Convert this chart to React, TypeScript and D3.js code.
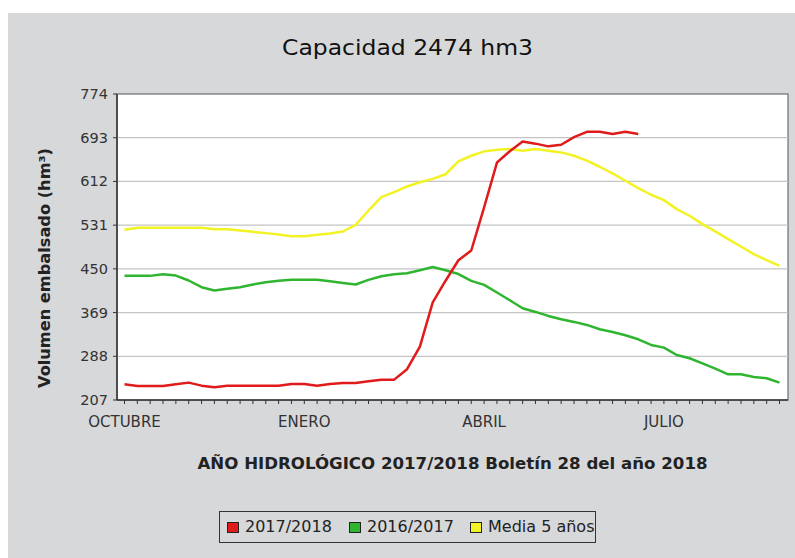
import React from "react";
import * as d3 from "d3";

const serie20172018 = [236.1, 233, 233, 233, 236.1, 239.2, 233.6, 230.5, 233.6, 233.6, 233.6, 233.6, 233.6, 236.7, 236.7, 233.6, 236.7, 238.5, 238.5, 241.6, 244.7, 244.7, 264, 306, 388, 428, 466, 484, 564, 647, 668, 686, 682, 677, 680, 694, 704, 704, 700, 704, 700];
const serie20162017 = [437, 437, 437, 440, 437.6, 428.4, 416, 410, 413, 416, 421, 425, 428, 429.6, 429.6, 429.6, 427, 424, 421, 429.6, 436.4, 440, 442, 447.5, 453.4, 447.5, 440.4, 427.7, 420.3, 406.1, 391.9, 377, 370.2, 362.8, 356.6, 351.7, 346.1, 338.1, 333.1, 326.9, 319.5, 309, 304, 290.4, 284.3, 275, 265.1, 254.6, 254.6, 249.6, 247.2, 239.1];
const media5 = [522.3, 526.1, 526.1, 526.1, 526.1, 526.1, 526.1, 523.6, 523.6, 521.1, 518.6, 516.2, 513.7, 510.6, 510.6, 513.1, 515.5, 519.2, 531.6, 558.2, 583, 592.2, 602.7, 610.5, 616.7, 625.3, 649, 659.6, 667.7, 670.8, 672, 668.9, 672, 668.9, 665.8, 659.6, 650.4, 639.2, 626.9, 613.3, 599.7, 587.3, 577.4, 560.7, 548.4, 532.9, 519.3, 505, 491.4, 477.2, 466.1, 455.6];

const yTicks = [207, 288, 369, 450, 531, 612, 693, 774];
const monthLabels = ["OCTUBRE", "ENERO", "ABRIL", "JULIO"];
const monthWeek = [0, 14, 28, 42];
const nWeeks = 52;

const seriesNames = ["2017/2018", "2016/2017", "Media 5 años"];
const seriesColors = ["#e01b1b", "#2fb52f", "#f2f224"];

const FONT = "'DejaVu Sans', sans-serif";

export default function App() {
  const W = 795, H = 558;
  const plot = { left: 117, top: 94, right: 788, bottom: 400 };
  const x = d3.scaleLinear().domain([0, nWeeks - 1]).range([124.5, 779.5]);
  const y = d3.scaleLinear().domain([207, 774]).range([plot.bottom, plot.top]);
  const line = d3.line<number>().x((_, i) => x(i)).y((d) => y(d));
  const allSeries = [serie20172018, serie20162017, media5];
  const drawOrder = [2, 1, 0];

  const legendItems = [
    { sq: 227, tx: 245 },
    { sq: 349, tx: 367 },
    { sq: 470, tx: 488 },
  ];

  return (
    <svg width={W} height={H} style={{ position: "absolute", left: 0, top: 0 }} fontFamily={FONT}>
      <rect x={0} y={0} width={W} height={H} fill="#ffffff" />
      <rect x={8} y={13} width={W - 8} height={H - 13} fill="#d7d8da" />
      <text x={407.5} y={55} textAnchor="middle" fontSize={21} fill="#111" textLength={251} lengthAdjust="spacingAndGlyphs">
        Capacidad 2474 hm3
      </text>
      <rect x={plot.left} y={plot.top} width={plot.right - plot.left} height={plot.bottom - plot.top} fill="#ffffff" stroke="#555" strokeWidth={1} />
      {yTicks.map((t) => (
        <g key={t}>
          {t !== 207 && t !== 774 && (
            <line x1={plot.left} x2={plot.right} y1={y(t)} y2={y(t)} stroke="#c4c4c4" strokeWidth={1.2} />
          )}
          <line x1={plot.left - 4} x2={plot.left} y1={y(t)} y2={y(t)} stroke="#333" strokeWidth={1} />
          <text x={108} y={y(t) + 5} textAnchor="end" fontSize={14.5} fill="#333">{t}</text>
        </g>
      ))}
      {d3.range(nWeeks).map((i) => (
        <line key={i} x1={x(i)} x2={x(i)} y1={plot.bottom} y2={plot.bottom + 4} stroke="#333" strokeWidth={1} />
      ))}
      <line x1={plot.left} x2={plot.left} y1={plot.top} y2={plot.bottom} stroke="#333" strokeWidth={1.5} />
      <line x1={plot.left} x2={plot.right} y1={plot.bottom} y2={plot.bottom} stroke="#333" strokeWidth={1.5} />
      {monthLabels.map((m, k) => (
        <text key={m} x={x(monthWeek[k])} y={427} textAnchor="middle" fontSize={15} fill="#333">{m}</text>
      ))}
      <text x={452.5} y={469} textAnchor="middle" fontSize={15} fontWeight="bold" fill="#222" textLength={510} lengthAdjust="spacingAndGlyphs">
        AÑO HIDROLÓGICO 2017/2018 Boletín 28 del año 2018
      </text>
      <text transform={`translate(50,268) rotate(-90)`} textAnchor="middle" fontSize={16} fontWeight="bold" fill="#222" textLength={240} lengthAdjust="spacingAndGlyphs">
        Volumen embalsado (hm³)
      </text>
      {drawOrder.map((s) => (
        <path key={s} d={line(allSeries[s]) || ""} fill="none" stroke={seriesColors[s]} strokeWidth={2.5} strokeLinejoin="round" />
      ))}
      <rect x={219.5} y={511.5} width={376} height={31} fill="none" stroke="#333" strokeWidth={1} />
      {seriesNames.map((n, s) => (
        <g key={n}>
          <rect x={legendItems[s].sq + 0.5} y={522.5} width={11} height={10} fill={seriesColors[s]} stroke="#222" strokeWidth={1} />
          <text x={legendItems[s].tx} y={532} fontSize={16} fill="#222">{n}</text>
        </g>
      ))}
    </svg>
  );
}
